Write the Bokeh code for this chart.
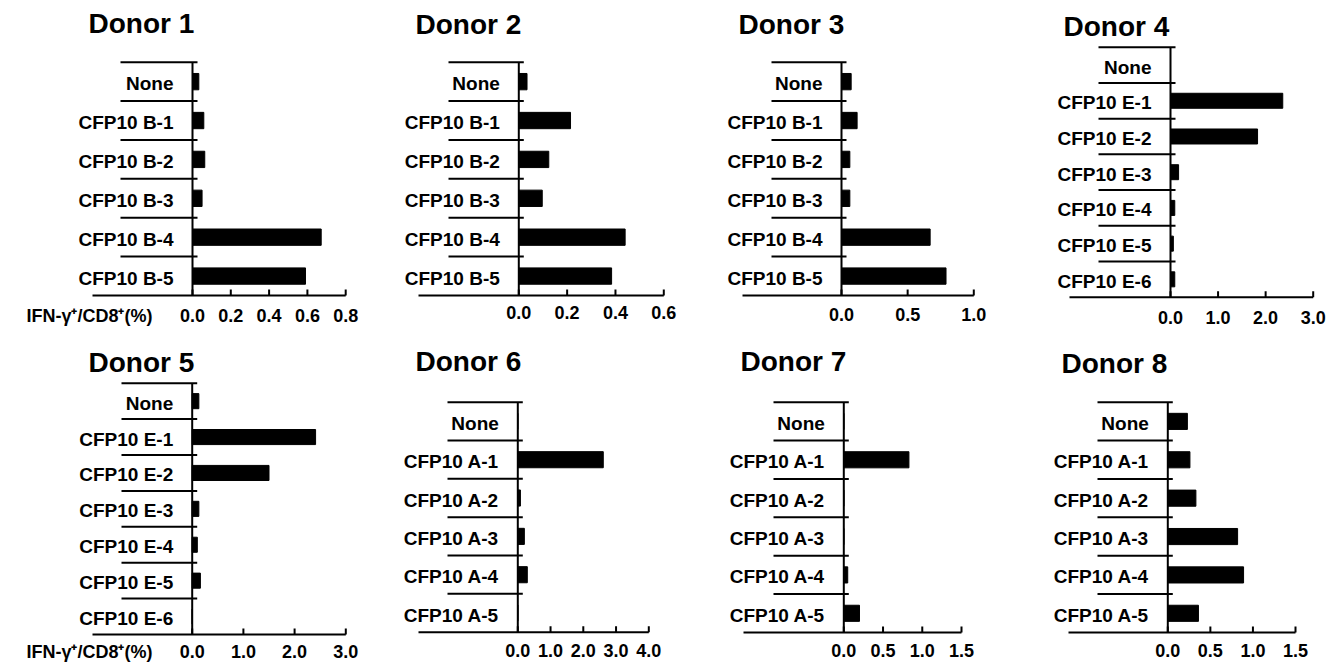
from bokeh.plotting import figure
from bokeh.layouts import row, column
from bokeh.models import Range1d, FixedTicker, ColumnDataSource, AllLabels
from bokeh.core.properties import value
from bokeh.embed import file_html
from bokeh.resources import INLINE

# ---------------- data ----------------
titles = ["Donor 1", "Donor 2", "Donor 3", "Donor 4",
          "Donor 5", "Donor 6", "Donor 7", "Donor 8"]

cats_B = ["None", "CFP10 B-1", "CFP10 B-2", "CFP10 B-3", "CFP10 B-4", "CFP10 B-5"]
cats_E = ["None", "CFP10 E-1", "CFP10 E-2", "CFP10 E-3", "CFP10 E-4", "CFP10 E-5", "CFP10 E-6"]
cats_A = ["None", "CFP10 A-1", "CFP10 A-2", "CFP10 A-3", "CFP10 A-4", "CFP10 A-5"]

donor1 = [0.033, 0.059, 0.064, 0.050, 0.672, 0.590]
donor2 = [0.034, 0.214, 0.124, 0.097, 0.440, 0.384]
donor3 = [0.073, 0.118, 0.063, 0.063, 0.670, 0.790]
donor4 = [0.0, 2.36, 1.83, 0.17, 0.09, 0.06, 0.09]
donor5 = [0.13, 2.41, 1.50, 0.13, 0.10, 0.16, 0.0]
donor6 = [0.0, 2.61, 0.08, 0.20, 0.29, 0.0]
donor7 = [0.0, 0.83, 0.0, 0.0, 0.05, 0.20]
donor8 = [0.23, 0.26, 0.33, 0.82, 0.89, 0.36]

ticks_08 = [0, 0.2, 0.4, 0.6, 0.8]
labels_08 = ["0.0", "0.2", "0.4", "0.6", "0.8"]
ticks_06 = [0, 0.2, 0.4, 0.6]
labels_06 = ["0.0", "0.2", "0.4", "0.6"]
ticks_10 = [0, 0.5, 1.0]
labels_10 = ["0.0", "0.5", "1.0"]
ticks_30 = [0, 1, 2, 3]
labels_30 = ["0.0", "1.0", "2.0", "3.0"]
ticks_40 = [0, 1, 2, 3, 4]
labels_40 = ["0.0", "1.0", "2.0", "3.0", "4.0"]
ticks_15 = [0, 0.5, 1.0, 1.5]
labels_15 = ["0.0", "0.5", "1.0", "1.5"]

x_title = "IFN-γ⁺/CD8⁺(%)"

cats = [cats_B, cats_B, cats_B, cats_E, cats_E, cats_A, cats_A, cats_A]
values = [donor1, donor2, donor3, donor4, donor5, donor6, donor7, donor8]
ticks = [ticks_08, ticks_06, ticks_10, ticks_30, ticks_30, ticks_40, ticks_15, ticks_15]
tick_labels = [labels_08, labels_06, labels_10, labels_30, labels_30, labels_40, labels_15, labels_15]

# ---------------- layout (page pixels) ----------------
FONT = "Liberation Sans"
COLS = [(0, 400), (400, 720), (720, 1045), (1045, 1336)]
ROWS = [(0, 340), (340, 665)]
# y-axis x, last-tick x, top separator y, x-axis y, title baseline, title left,
# x-axis line left, separator left, tick-label baseline
GEOM = [
    (192.0, 345.2, 61.7, 295.0, 32.5, 90, 92, 120, 321),
    (518.3, 663.3, 61.7, 295.0, 33.0, 417, 418, 448, 321),
    (841.0, 973.3, 61.7, 295.0, 33.0, 740, 742, 771, 323),
    (1170.0, 1312.7, 46.7, 296.7, 35.0, 1065, 1069, 1098, 326),
    (191.7, 345.3, 382.7, 634.0, 371.0, 90, 92, 121, 657),
    (517.3, 648.3, 401.7, 631.7, 370.0, 417, 418, 447, 659),
    (843.3, 961.0, 401.7, 632.0, 370.0, 742, 743, 773, 659),
    (1167.3, 1295.0, 401.7, 632.0, 371.5, 1063, 1068, 1097, 659),
]
IFN_CENTER = 89
TICK_FS = 18
TITLE_FS = 28

# plots stacked in a column share their left/right borders, so give both
# plots of a column the same frame right edge
FRAME_RIGHT = [max(int(round(GEOM[c][1] + 2)), int(round(GEOM[c + 4][1] + 2))) for c in range(4)]


def panel(k):
    cx0, cx1 = COLS[k % 4]
    cy0, cy1 = ROWS[k // 4]
    ax_x, xend, st, sb, tbase, tleft, xl_left, sep_left, lbase = GEOM[k]
    cat, vals, tk, tl = cats[k], values[k], ticks[k], tick_labels[k]
    n = len(cat)
    xmax = tk[-1]

    FL = cx0
    FR = FRAME_RIGHT[k % 4]
    FT = int(round(tbase + 8))
    FB = int(round(sb + 2))
    ppx = (xend - ax_x) / xmax
    ppy = (sb - st) / n
    x0, x1 = (FL - ax_x) / ppx, (FR - ax_x) / ppx
    y0, y1 = -(FB - sb) / ppy, (sb - FT) / ppy

    p = figure(width=cx1 - cx0, height=cy1 - cy0,
               x_range=Range1d(x0, x1), y_range=Range1d(y0, y1),
               min_border_left=FL - cx0, min_border_right=cx1 - FR,
               min_border_top=FT - cy0, min_border_bottom=cy1 - FB,
               y_axis_location=None, toolbar_location=None, tools="",
               output_backend="svg")
    p.outline_line_color = None
    p.xgrid.visible = False
    p.ygrid.visible = False
    p.background_fill_color = "white"
    p.border_fill_color = "white"

    yc = [n - i - 0.5 for i in range(n)]
    src = ColumnDataSource(dict(y=yc, v=vals, c=cat))
    p.hbar(y="y", left=0, right="v", height=0.42, source=src,
           fill_color="black", line_color="black")
    p.text(x=0, y="y", text="c", source=src, x_offset=-19, y_offset=2,
           text_align="right", text_baseline="middle",
           text_font=value(FONT), text_font_style="bold", text_font_size="19px",
           text_color="black")
    # category separators (Prism style) and the y axis line
    bounds = list(range(1, n + 1))
    p.segment(x0=[(sep_left - ax_x) / ppx] * n, x1=[5 / ppx] * n, y0=bounds, y1=bounds,
              line_color="black", line_width=2)
    p.segment(x0=[0], y0=[0], x1=[0], y1=[n], line_color="black", line_width=2)
    # x axis line and its inward tick marks
    p.segment(x0=[(xl_left - ax_x) / ppx], y0=[0], x1=[xmax], y1=[0],
              line_color="black", line_width=2)
    p.segment(x0=tk, y0=[0] * len(tk), x1=tk, y1=[6 / ppy] * len(tk),
              line_color="black", line_width=2)

    ax = p.xaxis[0]
    all_ticks = list(tk)
    overrides = {t: l for t, l in zip(tk, tl)}
    if k % 4 == 0:
        ifn_x = (IFN_CENTER - ax_x) / ppx
        all_ticks = [ifn_x] + all_ticks
        overrides[ifn_x] = x_title
    ax.ticker = FixedTicker(ticks=all_ticks)
    ax.major_label_overrides = overrides
    ax.major_label_policy = AllLabels()
    ax.axis_line_color = None
    ax.major_tick_in = 0
    ax.major_tick_out = 0
    ax.minor_tick_in = 0
    ax.minor_tick_out = 0
    ax.major_label_standoff = int(round(lbase - FB - 0.905 * TICK_FS))
    ax.major_label_text_font = FONT
    ax.major_label_text_font_style = "bold"
    ax.major_label_text_font_size = f"{TICK_FS}px"
    ax.major_label_text_color = "black"

    p.title.text = titles[k]
    p.title.text_font = FONT
    p.title.text_font_size = f"{TITLE_FS}px"
    p.title.text_font_style = "bold"
    p.title.text_color = "black"
    p.title.align = "left"
    p.title.offset = tleft - 2 - FL
    p.title.vertical_align = "top"
    p.title.standoff = 0
    return p


panels = [panel(k) for k in range(8)]
layout = row(*[column(panels[c], panels[c + 4]) for c in range(4)])
open("out.html", "w").write(file_html(layout, INLINE))
